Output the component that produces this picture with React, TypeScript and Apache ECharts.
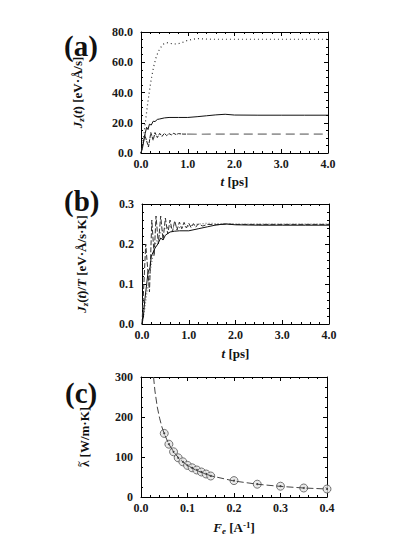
import React, { useEffect, useRef } from 'react';
import * as echarts from 'echarts';

// ---------- Panel (a): J_z(t) ----------
const aDotT = [0, 0.03, 0.06, 0.1, 0.14, 0.18, 0.22, 0.27, 0.33, 0.4, 0.48, 0.55, 0.62, 0.7, 0.8, 0.9, 1.0, 1.1, 1.2, 1.3, 1.5, 2.0, 2.5, 3.0, 3.5, 4.0];
const aDotV = [0, 5, 12, 22, 32, 41, 49, 57, 64, 69, 72, 73, 72.5, 72, 72.3, 73.3, 74.5, 75.2, 75.6, 75.5, 75.2, 75.2, 75.2, 75.2, 75.2, 75.2];

const aSolT = [0, 0.03, 0.06, 0.09, 0.12, 0.15, 0.18, 0.22, 0.26, 0.3, 0.35, 0.4, 0.5, 0.6, 0.8, 1.0, 1.2, 1.4, 1.6, 1.8, 2.0, 2.5, 3.0, 3.5, 4.0];
const aSolV = [0, 3, 8, 13, 17, 15.5, 19, 18.5, 21, 20.8, 22.2, 22.5, 23.2, 23.5, 23.5, 23.5, 24, 24.6, 25.2, 25.6, 25.1, 25, 25, 25, 25];

const aDashT = [0, 0.04, 0.08, 0.12, 0.16, 0.21, 0.26, 0.3, 0.35, 0.4, 0.45, 0.5, 0.55, 0.6, 0.65, 0.7, 0.75, 0.8, 0.9, 1.0, 1.2, 1.5, 2.0, 2.5, 3.0, 3.5, 4.0];
const aDashV = [0, 6, 12, 8, 4, 13.5, 8.5, 13.5, 10.2, 13, 11, 13, 11.5, 12.8, 12, 13, 12.2, 12.8, 12.5, 12.5, 12.4, 12.5, 12.5, 12.5, 12.5, 12.5, 12.5];

// ---------- Panel (b): J_z(t)/T ----------
const bSolT = [0, 0.03, 0.06, 0.1, 0.13, 0.17, 0.2, 0.24, 0.28, 0.34, 0.4, 0.45, 0.5, 0.6, 0.7, 0.8, 1.0, 1.2, 1.4, 1.6, 1.8, 2.0, 2.5, 3.0, 3.5, 4.0];
const bSolV = [0, 0.02, 0.06, 0.1, 0.13, 0.14, 0.17, 0.18, 0.19, 0.2, 0.215, 0.21, 0.222, 0.23, 0.232, 0.233, 0.233, 0.238, 0.243, 0.248, 0.25, 0.248, 0.247, 0.247, 0.247, 0.247];

const bDashT = [0, 0.04, 0.08, 0.12, 0.16, 0.21, 0.26, 0.3, 0.35, 0.4, 0.45, 0.5, 0.55, 0.6, 0.65, 0.7, 0.75, 0.8, 0.85, 0.9, 0.95, 1.0, 1.05, 1.1, 1.15, 1.2, 1.3, 1.4, 1.6, 1.8, 2.0, 2.5, 3.0, 3.5, 4.0];
const bDashV = [0, 0.1, 0.2, 0.14, 0.08, 0.26, 0.17, 0.27, 0.2, 0.27, 0.21, 0.265, 0.225, 0.26, 0.23, 0.258, 0.235, 0.255, 0.238, 0.254, 0.24, 0.252, 0.241, 0.251, 0.242, 0.25, 0.245, 0.249, 0.248, 0.25, 0.249, 0.249, 0.249, 0.249, 0.249];

const bDotT = [0, 0.05, 0.1, 0.15, 0.2, 0.25, 0.3, 0.4, 0.5, 0.6, 0.7, 0.8, 1.0, 1.2, 1.4, 1.6, 2.0, 3.0, 4.0];
const bDotV = [0, 0.03, 0.075, 0.11, 0.15, 0.18, 0.205, 0.228, 0.24, 0.243, 0.242, 0.241, 0.245, 0.25, 0.252, 0.251, 0.25, 0.25, 0.25];

// ---------- Panel (c): lambda vs F_e ----------
const cPtsF = [0.05, 0.06, 0.07, 0.08, 0.09, 0.10, 0.11, 0.12, 0.13, 0.14, 0.15, 0.2, 0.25, 0.3, 0.35, 0.4];
const cPtsL = [159, 132, 113, 98, 88, 79, 73, 67.5, 62.5, 57.5, 52.5, 41, 32, 27, 22.5, 20];
const cFitF = [0.027, 0.03, 0.035, 0.04, 0.045, 0.05, 0.06, 0.07, 0.08, 0.09, 0.1, 0.12, 0.15, 0.2, 0.25, 0.3, 0.35, 0.4];
const cFitL = [300, 265, 225, 197, 175, 158, 132, 113, 99, 88, 79, 66, 53, 40, 32, 26.5, 22.5, 20];

const zip = (t: number[], v: number[]) => t.map((x, i) => [x, v[i]]);
const FONT = "'Liberation Serif', 'DejaVu Serif', 'Times New Roman', serif";

const rich = {
  n: { fontFamily: FONT, fontWeight: 'bold', fontSize: 13, color: '#111' },
  i: { fontFamily: FONT, fontWeight: 'bold', fontStyle: 'italic', fontSize: 13, color: '#111' },
  s: { fontFamily: FONT, fontWeight: 'bold', fontStyle: 'italic', fontSize: 9, color: '#111', padding: [6, 0, 0, 0] },
  u: { fontFamily: FONT, fontWeight: 'bold', fontSize: 9, color: '#111', padding: [0, 0, 6, 0] },
};

function axis(kind: 'x' | 'y', grid: number, min: number, max: number, interval: number, minorSplit: number, digits: number, main: boolean, name?: string, nameGap?: number) {
  const a: any = {
    type: 'value',
    gridIndex: grid,
    min, max, interval,
    position: kind === 'x' ? (main ? 'bottom' : 'top') : (main ? 'left' : 'right'),
    axisLine: { show: true, onZero: false, lineStyle: { color: '#000', width: 1 } },
    axisTick: { show: true, inside: true, length: 4, lineStyle: { color: '#000', width: 1 } },
    minorTick: { show: true, splitNumber: minorSplit, length: 2, lineStyle: { color: '#000', width: 1 } },
    splitLine: { show: false },
    minorSplitLine: { show: false },
    axisLabel: {
      show: main,
      fontFamily: FONT, fontWeight: 'bold', fontSize: 12, color: '#1a1a1a',
      margin: kind === 'x' ? 5 : 8,
      formatter: (v: number) => v.toFixed(digits),
    },
  };
  if (main && name) {
    a.name = name;
    a.nameLocation = 'middle';
    a.nameGap = nameGap;
    a.nameTextStyle = { rich };
  }
  return a;
}

const lineBase = { type: 'line', showSymbol: false, symbol: 'none', smooth: false, silent: true };

const option: any = {
  animation: false,
  backgroundColor: '#fff',
  grid: [
    { left: 141, top: 32, width: 187, height: 121 },
    { left: 142, top: 204, width: 187, height: 120 },
    { left: 141, top: 377, width: 186, height: 120 },
  ],
  xAxis: [
    axis('x', 0, 0, 4, 1, 5, 1, true, '{i|t}{n| [ps]}', 22),
    axis('x', 0, 0, 4, 1, 5, 1, false),
    axis('x', 1, 0, 4, 1, 5, 1, true, '{i|t}{n| [ps]}', 23),
    axis('x', 1, 0, 4, 1, 5, 1, false),
    axis('x', 2, 0, 0.4, 0.1, 5, 1, true, '{i|F}{s|e}{n| [A}{u|-1}{n|]}', 23),
    axis('x', 2, 0, 0.4, 0.1, 5, 1, false),
  ],
  yAxis: [
    axis('y', 0, 0, 80, 20, 4, 1, true, '{i|J}{s|z}{n|(}{i|t}{n|) [eV·Å/s]}', 56),
    axis('y', 0, 0, 80, 20, 4, 1, false),
    axis('y', 1, 0, 0.3, 0.1, 5, 1, true, '{i|J}{s|z}{n|(}{i|t}{n|)/}{i|T}{n| [eV·Å/s·K]}', 53),
    axis('y', 1, 0, 0.3, 0.1, 5, 1, false),
    axis('y', 2, 0, 300, 100, 4, 0, true, '{n|λ}{n| [W/m·K]}', 50),
    axis('y', 2, 0, 300, 100, 4, 0, false),
  ],
  graphic: [
    { type: 'text', left: 64, top: 31, style: { text: '(a)', fontFamily: FONT, fontWeight: 'bold', fontSize: 29, fill: '#111' } },
    { type: 'text', left: 64, top: 186, style: { text: '(b)', fontFamily: FONT, fontWeight: 'bold', fontSize: 29, fill: '#111' } },
    { type: 'text', left: 65, top: 378, style: { text: '(c)', fontFamily: FONT, fontWeight: 'bold', fontSize: 29, fill: '#111' } },
    {
      type: 'text', x: 78, y: 464, rotation: Math.PI / 2,
      style: { text: '~', fontFamily: FONT, fontWeight: 'bold', fontSize: 10, fill: '#111', align: 'center', verticalAlign: 'middle' },
    },
  ],
  series: [
    // (a)
    { ...lineBase, xAxisIndex: 0, yAxisIndex: 0, data: zip(aDotT, aDotV), lineStyle: { color: '#333', width: 1.2, type: [1, 3] } },
    { ...lineBase, xAxisIndex: 0, yAxisIndex: 0, data: zip(aSolT, aSolV), lineStyle: { color: '#111', width: 1 } },
    { ...lineBase, xAxisIndex: 0, yAxisIndex: 0, data: zip(aDashT, aDashV).filter(p => p[0] <= 1.0), lineStyle: { color: '#222', width: 1, type: [4, 1] } },
    { ...lineBase, xAxisIndex: 0, yAxisIndex: 0, data: zip(aDashT, aDashV).filter(p => p[0] >= 1.0), lineStyle: { color: '#999', width: 1.6, type: [9, 5] } },
    // (b)
    { ...lineBase, xAxisIndex: 2, yAxisIndex: 2, data: zip(bDotT, bDotV), lineStyle: { color: '#777', width: 1.2, type: [1, 2] } },
    { ...lineBase, xAxisIndex: 2, yAxisIndex: 2, data: zip(bDashT, bDashV), lineStyle: { color: '#333', width: 1, type: [5, 2] } },
    { ...lineBase, xAxisIndex: 2, yAxisIndex: 2, data: zip(bSolT, bSolV), lineStyle: { color: '#111', width: 1 } },
    // (c)
    { ...lineBase, xAxisIndex: 4, yAxisIndex: 4, data: zip(cFitF, cFitL), lineStyle: { color: '#444', width: 1, type: [7, 3] } },
    {
      type: 'scatter', xAxisIndex: 4, yAxisIndex: 4, data: zip(cPtsF, cPtsL), symbol: 'circle', symbolSize: 8, silent: true,
      itemStyle: { color: '#e4e4e4', borderColor: '#555', borderWidth: 1 },
    },
    {
      type: 'scatter', xAxisIndex: 4, yAxisIndex: 4, data: zip(cPtsF, cPtsL), symbol: 'circle', symbolSize: 2, silent: true,
      itemStyle: { color: '#111' },
    },
  ],
};

export default function App() {
  const ref = useRef<HTMLDivElement>(null);
  useEffect(() => {
    const chart = echarts.init(ref.current!, null, { renderer: 'svg' });
    chart.setOption(option);
    return () => chart.dispose();
  }, []);
  return <div ref={ref} style={{ position: 'fixed', left: 0, top: 0, width: 398, height: 546 }} />;
}
